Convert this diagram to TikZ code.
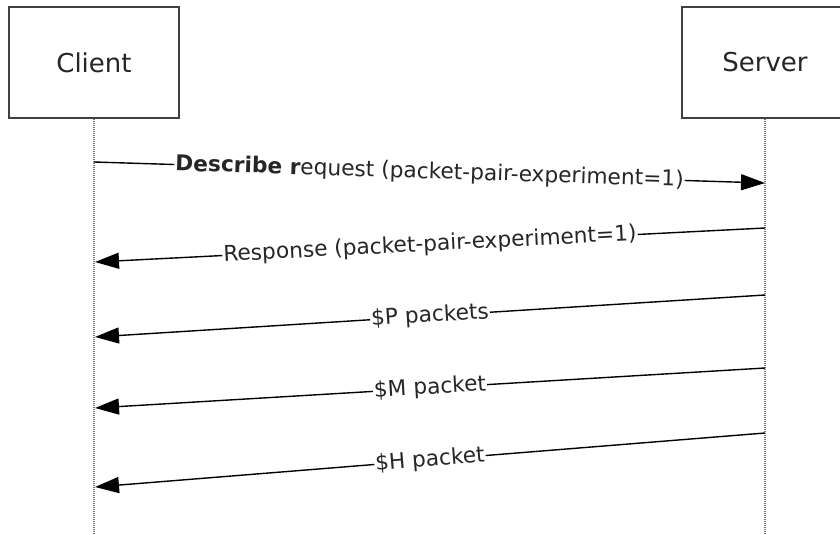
\documentclass[tikz,border=0pt]{standalone}
\usepackage{fontspec}
\setmainfont{DejaVu Sans}
\usetikzlibrary{arrows.meta}
\begin{document}
\begin{tikzpicture}[x=1pt,y=-1pt,
  actor/.style={draw=black!75, line width=1.5pt, fill=white, minimum width=170pt, minimum height=111pt, inner sep=0pt, font=\fontsize{26}{31}\selectfont, text=black!85},
  lifeline/.style={draw=black!55, line width=1.6pt, dash pattern=on 1pt off 1pt},
  msg/.style={draw=black, line width=1.4pt, -{Triangle[length=24pt,width=16pt]}},
  lbl/.style={midway, sloped, fill=white, inner sep=1pt, font=\fontsize{21.7}{26}\selectfont, text=black!85}]
\clip (0,0) rectangle (840,535);
\useasboundingbox (0,0) rectangle (840,535);
\node[actor] (client) at (94,62.5) {Client};
\node[actor, minimum width=166pt] (server) at (765,62.5) {Server};
\coordinate (cb) at (94,535);
\coordinate (sb) at (765,535);
\draw[lifeline] (client.south) -- (cb);
\draw[lifeline] (server.south) -- (sb);
% message endpoints
\coordinate (c1) at (94,162);  \coordinate (s1) at (765,183);
\coordinate (s2) at (765,228); \coordinate (c2) at (95,262);
\coordinate (s3) at (765,295); \coordinate (c3) at (95,337);
\coordinate (s4) at (765,368); \coordinate (c4) at (95,408);
\coordinate (s5) at (765,433); \coordinate (c5) at (95,487);
\draw[msg] (c1) -- node[lbl] (m1) {\textbf{Describe r}equest (packet-pair-experiment=1)} (s1);
\draw[msg] (s2) -- node[lbl] (m2) {Response (packet-pair-experiment=1)} (c2);
\draw[msg] (s3) -- node[lbl] (m3) {\$P packets} (c3);
\draw[msg] (s4) -- node[lbl] (m4) {\$M packet} (c4);
\draw[msg] (s5) -- node[lbl] (m5) {\$H packet} (c5);
\end{tikzpicture}
\end{document}
